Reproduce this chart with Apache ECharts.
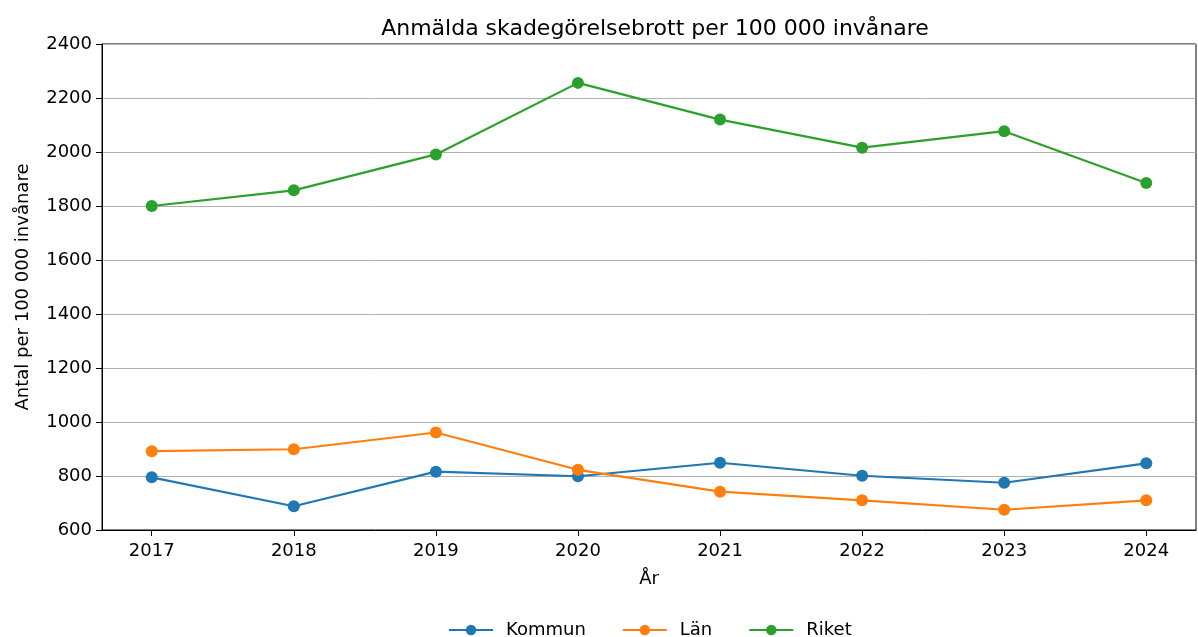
<!DOCTYPE html>
<html>
<head>
<meta charset="utf-8">
<script src="https://cdn.jsdelivr.net/npm/echarts@6/dist/echarts.min.js"></script>
<style>
  html, body { margin: 0; padding: 0; background: #fff; }
  #chart { width: 1198px; height: 637px; }
</style>
</head>
<body>
<div id="chart"></div>
<script>
const years = [2017, 2018, 2019, 2020, 2021, 2022, 2023, 2024];
const kommun = [795, 688, 816, 799, 849, 801, 775, 847];
const lan = [892, 899, 961, 823, 742, 710, 675, 710];
const riket = [1800, 1858, 1991, 2256, 2120, 2016, 2077, 1885];
const yTicks = [600, 800, 1000, 1200, 1400, 1600, 1800, 2000, 2200, 2400];

const font = 'DejaVu Sans';

function pairs(vals) {
  return years.map((y, i) => [y, vals[i]]);
}

function lineSeries(name, vals, color) {
  return {
    name: name,
    type: 'line',
    data: pairs(vals),
    symbol: 'circle',
    symbolSize: 12,
    lineStyle: { color: color, width: 2.2 },
    itemStyle: { color: color },
    emphasis: { disabled: true },
  };
}

const chart = echarts.init(document.getElementById('chart'));
chart.setOption({
  animation: false,
  textStyle: { fontFamily: font },
  title: {
    text: 'Anmälda skadegörelsebrott per 100 000 invånare',
    left: 650,
    textAlign: 'center',
    top: 13,
    textStyle: { fontFamily: font, fontSize: 22, fontWeight: 'normal', color: '#000' },
  },
  grid: {
    left: 102,
    right: 2,
    top: 44,
    bottom: 107,
    show: true,
    borderColor: '#000',
    borderWidth: 1,
    containLabel: false,
  },
  legend: {
    top: 616,
    left: 443,
    itemGap: 36,
    itemWidth: 44,
    itemHeight: 13,
    textStyle: { fontFamily: font, fontSize: 18, color: '#000', padding: [0, 0, 0, 8] },
    data: ['Kommun', 'Län', 'Riket'],
  },
  xAxis: {
    type: 'value',
    min: 2016.65,
    max: 2024.35,
    name: 'År',
    nameLocation: 'middle',
    nameGap: 40,
    nameTextStyle: { fontSize: 18, color: '#000' },
    axisLine: { show: true, lineStyle: { color: '#000' } },
    axisTick: { show: true, customValues: years, length: 6, lineStyle: { color: '#000' } },
    axisLabel: { customValues: years, fontSize: 18, color: '#000', margin: 12, formatter: v => String(v) },
    splitLine: { show: false },
  },
  yAxis: {
    type: 'value',
    min: yTicks[0],
    max: yTicks[yTicks.length - 1],
    interval: 200,
    name: 'Antal per 100 000 invånare',
    nameLocation: 'middle',
    nameGap: 70,
    nameTextStyle: { fontSize: 18, color: '#000' },
    axisLine: { show: true, lineStyle: { color: '#000' } },
    axisTick: { show: true, length: 6, lineStyle: { color: '#000' } },
    axisLabel: { fontSize: 18, color: '#000', margin: 10, formatter: v => String(v) },
    splitLine: { show: true, lineStyle: { color: '#b0b0b0', width: 1 } },
  },
  series: [
    lineSeries('Kommun', kommun, '#1f77b4'),
    lineSeries('Län', lan, '#ff7f0e'),
    lineSeries('Riket', riket, '#2ca02c'),
  ],
});
</script>
</body>
</html>
